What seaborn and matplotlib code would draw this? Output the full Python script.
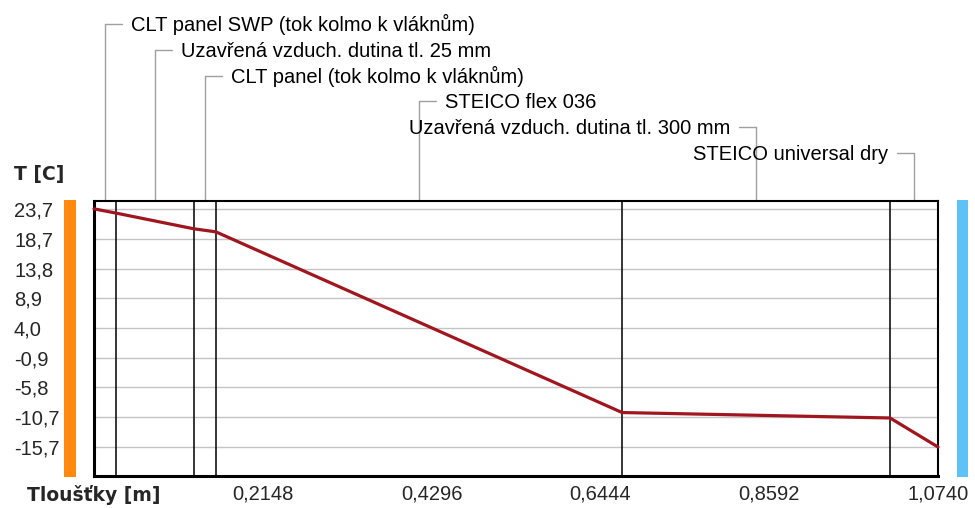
import numpy as np
import pandas as pd
import matplotlib
matplotlib.use("Agg")
import matplotlib.pyplot as plt
import seaborn as sns
from matplotlib import transforms
from matplotlib.patches import Rectangle

sns.set_theme(style="white")
plt.rcParams["font.family"] = ["Liberation Sans", "DejaVu Sans"]

# Wall layers from the interior (left) to the exterior (right)
layer_names = [
    "CLT panel SWP (tok kolmo k vláknům)",
    "Uzavřená vzduch. dutina tl. 25 mm",
    "CLT panel (tok kolmo k vláknům)",
    "STEICO flex 036",
    "Uzavřená vzduch. dutina tl. 300 mm",
    "STEICO universal dry",
]
layer_thickness = [0.028, 0.099, 0.028, 0.517, 0.341, 0.061]  # m
# Temperature at each layer interface [°C]
interface_temps = [23.7, 23.0, 20.4, 19.9, -10.0, -10.9, -15.7]

y_tick_values = [23.7, 18.7, 13.8, 8.9, 4.0, -0.9, -5.8, -10.7, -15.7]
y_tick_labels = ["23,7", "18,7", "13,8", "8,9", "4,0", "-0,9", "-5,8", "-10,7", "-15,7"]
x_tick_values = [0.1074, 0.2148, 0.3222, 0.4296, 0.5370, 0.6444, 0.7518, 0.8592, 0.9666, 1.0740]
x_tick_labels = ["", "0,2148", "", "0,4296", "", "0,6444", "", "0,8592", "", "1,0740"]

# label row heights (pixels from top) and which side of the leader the text sits on
label_rows = [24, 50, 76, 101, 127, 153]
label_side = ["right", "right", "right", "right", "left", "left"]

interfaces = np.concatenate([[0.0], np.cumsum(layer_thickness)])
profile = pd.DataFrame({"x": interfaces, "T": interface_temps})

W, H = 975, 508
fig = plt.figure(figsize=(W / 100, H / 100), dpi=100)
fig.patch.set_facecolor("white")

ax_l, ax_r, ax_t, ax_b = 94, 938, 201, 476
ax = fig.add_axes([ax_l / W, 1 - ax_b / H, (ax_r - ax_l) / W, (ax_b - ax_t) / H])
ax.set_facecolor("white")

total = interfaces[-1]
ax.set_xlim(0, total)
ax.set_ylim(-20.5, 25.0)

# horizontal grid at the temperature ticks
ax.set_yticks(y_tick_values)
ax.set_yticklabels(y_tick_labels, ha="left", fontsize=14.5)
ax.tick_params(axis="y", length=0, pad=(ax_l - 14) * 0.72)
ax.yaxis.grid(True, color="#c4c4c4", linewidth=1.0)
ax.xaxis.grid(False)

ax.set_xticks(x_tick_values)
ax.set_xticklabels(x_tick_labels, fontsize=14.5)
ax.tick_params(axis="x", direction="in", length=5, width=1, color="#a8a8a8", pad=6)

for side, lw in [("left", 2.2), ("bottom", 2.2), ("top", 1.5), ("right", 1.5)]:
    ax.spines[side].set_visible(True)
    ax.spines[side].set_color("black")
    ax.spines[side].set_linewidth(lw)

# layer boundaries
for b in interfaces[1:-1]:
    ax.axvline(b, color="black", linewidth=1.1, zorder=2)

# temperature profile
sns.lineplot(data=profile, x="x", y="T", ax=ax, color="#a0161f", linewidth=2.3,
             zorder=5, clip_on=False)
ax.set_xlabel("")
ax.set_ylabel("")

# layer name labels with leader lines
trans = transforms.blended_transform_factory(ax.transData, fig.transFigure)
px_per_m = (ax_r - ax_l) / total
leader_len = 17 / px_per_m
text_gap = 26 / px_per_m
y_top = 1 - ax_t / H
for i, name in enumerate(layer_names):
    mid = (interfaces[i] + interfaces[i + 1]) / 2
    y_row = 1 - label_rows[i] / H
    sgn = 1 if label_side[i] == "right" else -1
    ax.plot([mid, mid], [y_top, y_row], transform=trans, color="#a0a0a0",
            linewidth=1.0, clip_on=False)
    ax.plot([mid, mid + sgn * leader_len], [y_row, y_row], transform=trans,
            color="#a0a0a0", linewidth=1.0, clip_on=False)
    ax.text(mid + sgn * text_gap, 1 - (label_rows[i] + 7) / H, name,
            transform=trans, ha="left" if sgn > 0 else "right", va="baseline",
            fontsize=14.5, color="black")

# axis titles
fig.text(14 / W, 1 - 174 / H, "T [C]", family="DejaVu Sans", weight="bold",
         fontsize=13.5, va="center", ha="left")
fig.text(27 / W, 1 - 495 / H, "Tloušťky [m]", family="DejaVu Sans", weight="bold",
         fontsize=13.5, va="center", ha="left")

# interior / exterior colour bars
fig.add_artist(Rectangle((64 / W, 1 - 477 / H), 12 / W, 277 / H,
                         transform=fig.transFigure, color="#ff8a0f", linewidth=0))
fig.add_artist(Rectangle((957 / W, 1 - 477 / H), 11 / W, 277 / H,
                         transform=fig.transFigure, color="#5ec2f7", linewidth=0))

fig.savefig("out.png", dpi=100, facecolor="white")
